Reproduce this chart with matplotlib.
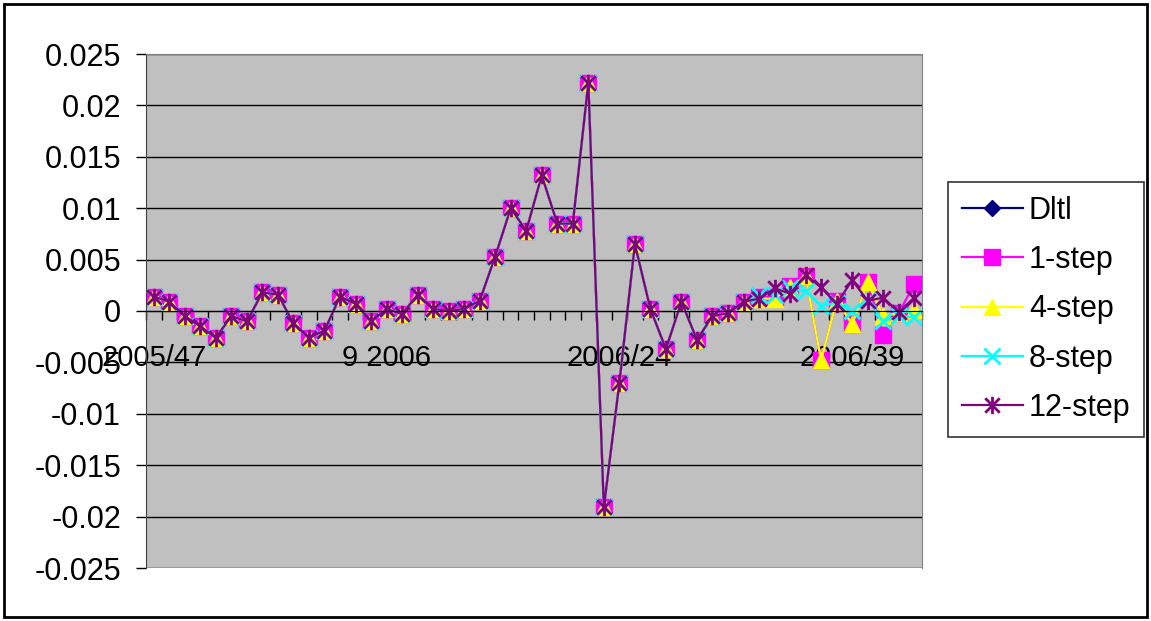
import matplotlib.pyplot as plt
import numpy as np
from matplotlib.path import Path
from matplotlib.patches import Rectangle

plt.rcParams['font.family'] = ['Liberation Sans', 'DejaVu Sans']

# weekly observations, 2005/47 onwards
history = [0.0014, 0.0009, -0.0005, -0.0015, -0.0026, -0.0005, -0.0010, 0.0018,
           0.0016, -0.0012, -0.0026, -0.0019, 0.0014, 0.0007, -0.0010, 0.0002,
           -0.0003, 0.0016, 0.0002, 0.0000, 0.0002, 0.0010, 0.0053, 0.0100,
           0.0078, 0.0132, 0.0085, 0.0085, 0.0222, -0.0191, -0.0070, 0.0065,
           0.0002, -0.0037, 0.0009, -0.0028, -0.0005, -0.0002, 0.0009]

# forecast tails (last 11 weeks)
tail_1 = [0.0014, 0.0014, 0.0024, 0.0034, -0.0048, 0.0010, -0.0013, 0.0028, -0.0023, -0.0002, 0.0026]
tail_4 = [0.0012, 0.0012, 0.0023, 0.0034, -0.0048, 0.0010, -0.0013, 0.0028, -0.0005, -0.0002, 0.0001]
tail_8 = [0.0016, 0.0016, 0.0022, 0.0019, 0.0005, 0.0008, 0.0000, 0.0011, -0.0010, -0.0005, -0.0006]
tail_12 = [0.0012, 0.0022, 0.0017, 0.0035, 0.0023, 0.0007, 0.0030, 0.0010, 0.0013, -0.0001, 0.0013]

dltl = history
step1 = history + tail_1
step4 = history + tail_4
step8 = history + tail_8
step12 = history + tail_12

x_labels = ['2005/47', '9 2006', '2006/24', '2006/39']
x_label_pos = [0, 15, 30, 45]
y_ticks = [0.025, 0.02, 0.015, 0.01, 0.005, 0, -0.005, -0.01, -0.015, -0.02, -0.025]
y_labels = ['0.025', '0.02', '0.015', '0.01', '0.005', '0',
            '-0.005', '-0.01', '-0.015', '-0.02', '-0.025']

# excel style star: an X with a vertical bar through it
star = Path([(-1, -1), (1, 1), (-1, 1), (1, -1), (0, -1.2), (0, 1.2)],
            [Path.MOVETO, Path.LINETO, Path.MOVETO, Path.LINETO, Path.MOVETO, Path.LINETO])

fig = plt.figure(figsize=(11.51, 6.21), dpi=100)
ax = fig.add_axes([146/1151, 1-568/621, 776/1151, 514/621])
ax.set_facecolor('#C0C0C0')

lw = 1.6
ax.plot(np.arange(len(dltl)), dltl, color='#000080', lw=lw, marker='D', ms=8, label='Dltl')
ax.plot(np.arange(len(step1)), step1, color='#FF00FF', lw=lw, marker='s', ms=11.5,
        mec='#FF00FF', label='1-step')
ax.plot(np.arange(len(step4)), step4, color='#FFFF00', lw=lw, marker='^', ms=11,
        mec='#FFFF00', label='4-step')
ax.plot(np.arange(len(step8)), step8, color='#00FFFF', lw=lw, marker='x', ms=11,
        mew=2, label='8-step')
ax.plot(np.arange(len(step12)), step12, color='#800080', lw=lw, marker=star, ms=12.5,
        mew=2, label='12-step')

ax.set_xlim(-0.5, 49.5)
ax.set_ylim(-0.025, 0.025)

ax.set_yticks(y_ticks)
ax.set_yticklabels(y_labels, fontsize=22)
ax.tick_params(axis='y', direction='out', length=7, width=1, pad=11, colors='black')
ax.yaxis.grid(True, color='black', lw=1)
ax.set_axisbelow(True)

ax.spines['bottom'].set_position(('data', 0))
ax.spines['bottom'].set_color('black')
ax.spines['left'].set_color('#404040')
ax.spines['top'].set_color('#808080')
ax.spines['right'].set_color('#808080')

ax.set_xticks(x_label_pos)
ax.set_xticklabels(x_labels, fontsize=21)
ax.set_xticks(np.arange(-0.5, 50, 1), minor=True)
ax.tick_params(axis='x', which='major', length=0, pad=24)
ax.tick_params(axis='x', which='minor', direction='out', length=6.5, width=1, color='black')

leg = fig.legend(loc='upper left', bbox_to_anchor=(948/1151, 1-182/621),
                 fontsize=22, frameon=True, fancybox=False, edgecolor='black',
                 borderpad=0.45, handlelength=2.0, handletextpad=0.2,
                 labelspacing=0.63, borderaxespad=0, numpoints=1)
leg.get_frame().set_linewidth(1.2)

fig.patches.append(Rectangle((4/1151, 4/621), 1143/1151, 613/621, transform=fig.transFigure,
                             fill=False, edgecolor='black', lw=2))

fig.savefig('out.png', dpi=100)
